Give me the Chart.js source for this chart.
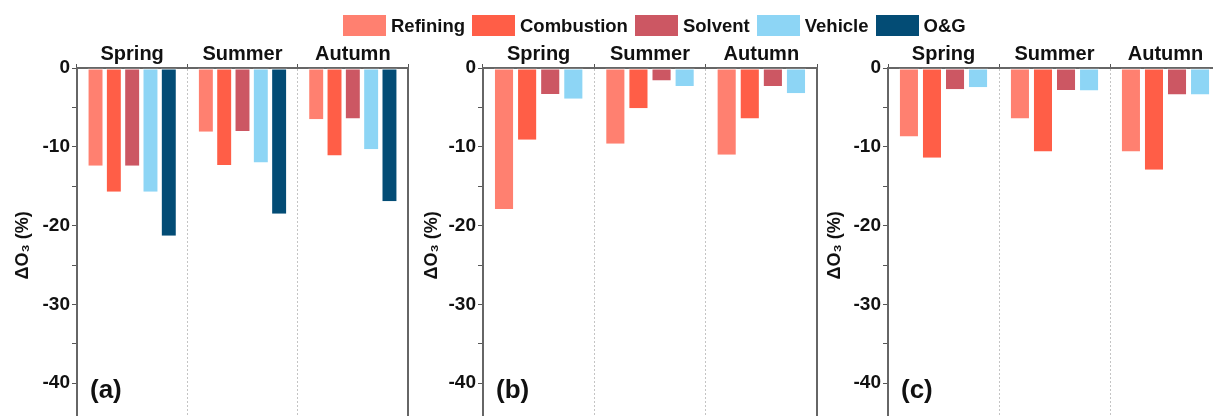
<!DOCTYPE html>
<html>
<head>
<meta charset="utf-8">
<script src="https://cdn.jsdelivr.net/npm/chart.js@4.4.1/dist/chart.umd.min.js"></script>
<style>
  html, body { margin: 0; padding: 0; background: #fff; overflow: hidden; width: 1213px; height: 416px; }
  canvas { position: absolute; top: 0; }
  #legend { position: absolute; left: 343px; top: 15px; display: flex; align-items: center;
            font: bold 18.5px "Liberation Sans", Arial, sans-serif; color: #111; z-index: 2; }
  #legend .box { width: 43px; height: 21px; margin-right: 5px; }
  #legend .lbl { margin-right: 7px; line-height: 21px; }
</style>
</head>
<body>
<div id="legend"></div>
<canvas id="panelA" width="410" height="436" style="left:0px"></canvas>
<canvas id="panelB" width="409" height="436" style="left:410px"></canvas>
<canvas id="panelC" width="404" height="436" style="left:819px"></canvas>
<script>
// seasons and emission sources
const categories = ["Spring", "Summer", "Autumn"];
const sources = ["Refining", "Combustion", "Solvent", "Vehicle", "O&G"];
const colores = ["#FF8070", "#FF5E47", "#CC5763", "#8DD5F5", "#034C75"];

// (a) ΔO3 (%)
const refiningA = [-12.4, -8.1, -6.5];
const combustionA = [-15.7, -12.3, -11.1];
const solventA = [-12.4, -8.0, -6.4];
const vehicleA = [-15.7, -12.0, -10.3];
const ogA = [-21.3, -18.5, -16.9];

// (b)
const refiningB = [-17.9, -9.6, -11.0];
const combustionB = [-9.1, -5.1, -6.4];
const solventB = [-3.3, -1.6, -2.3];
const vehicleB = [-3.9, -2.3, -3.2];

// (c)
const refiningC = [-8.7, -6.4, -10.6];
const combustionC = [-11.4, -10.6, -12.9];
const solventC = [-2.7, -2.8, -3.35];
const vehicleC = [-2.45, -2.85, -3.35];

const yTicks = [0, -10, -20, -30, -40];

const fuente = '"Liberation Sans", Arial, sans-serif';

// shared legend
const legend = document.getElementById("legend");
sources.forEach((s, i) => {
  const b = document.createElement("span");
  b.className = "box";
  b.style.background = colores[i];
  const t = document.createElement("span");
  t.className = "lbl";
  t.textContent = s;
  legend.appendChild(b);
  legend.appendChild(t);
});

const panelLabel = {
  id: "panelLabel",
  afterDraw(chart, args, opts) {
    const ctx = chart.ctx;
    ctx.save();
    ctx.font = "bold 26px " + fuente;
    ctx.fillStyle = "#111";
    ctx.textBaseline = "middle";
    ctx.fillText(opts.text, chart.chartArea.left + 13, 391);
    ctx.restore();
  },
};

function crearPanel(id, series, yWidth, titlePad, label) {
  const datasets = series.map((vals, i) => ({
    label: sources[i],
    data: vals,
    backgroundColor: colores[i],
    borderColor: "rgba(255,255,255,0.55)",
    borderWidth: 1,
    borderSkipped: "top",
    categoryPercentage: 0.83,
    barPercentage: 0.87,
    yAxisID: "y",
  }));

  new Chart(document.getElementById(id), {
    type: "bar",
    data: { labels: categories, datasets: datasets },
    plugins: [panelLabel],
    options: {
      responsive: false,
      devicePixelRatio: 1,
      animation: false,
      layout: { padding: 0 },
      plugins: {
        legend: { display: false },
        tooltip: { enabled: false },
        panelLabel: { text: label },
      },
      scales: {
        x: {
          position: "top",
          afterFit: (s) => { s.height = 68; },
          grid: {
            offset: true,
            drawOnChartArea: true,
            color: (c) => (c.index === 0 || c.index === categories.length ? "rgba(0,0,0,0)" : "#c4c4c4"),
            tickColor: "#555",
            tickBorderDash: [],
            tickLength: 4,
            lineWidth: 1,
          },
          border: { display: true, color: "#666", width: 2, dash: [2, 2] },
          ticks: {
            color: "#111",
            font: { family: fuente, size: 20, weight: "bold" },
            padding: -2,
          },
        },
        y: {
          min: -45,
          max: 0,
          afterFit: (s) => { s.width = yWidth; },
          grid: { drawOnChartArea: false, tickColor: "#555", tickLength: 5 },
          border: { display: true, color: "#666", width: 2 },
          ticks: {
            stepSize: 5,
            color: "#111",
            padding: 2,
            font: { family: fuente, size: 19, weight: "bold" },
            callback: (v) => (yTicks.includes(v) ? String(v) : ""),
          },
          title: {
            display: true,
            text: "ΔO₃ (%)",
            color: "#111",
            font: { family: fuente, size: 18, weight: "bold" },
            padding: { top: titlePad, bottom: 0 },
          },
        },
        y2: {
          position: "right",
          min: -45,
          max: 0,
          afterFit: (s) => { s.width = 2; },
          grid: { drawOnChartArea: false, drawTicks: false },
          border: { display: true, color: "#666", width: 2 },
          ticks: { display: false },
        },
      },
    },
  });
}

crearPanel("panelA", [refiningA, combustionA, solventA, vehicleA, ogA], 77, 12, "(a)");
crearPanel("panelB", [refiningB, combustionB, solventB, vehicleB], 73, 11, "(b)");
crearPanel("panelC", [refiningC, combustionC, solventC, vehicleC], 69, 5, "(c)");
</script>
</body>
</html>
